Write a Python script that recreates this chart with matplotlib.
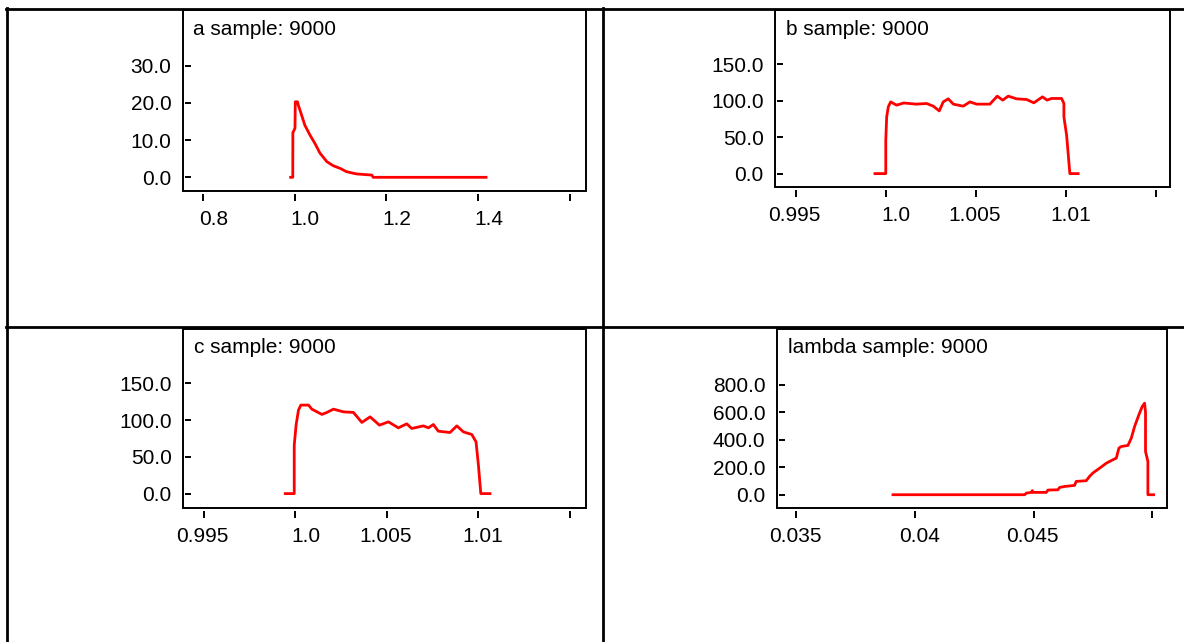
import matplotlib
matplotlib.use("Agg")
import matplotlib.pyplot as plt
from matplotlib.patches import Rectangle
from matplotlib.lines import Line2D
from matplotlib.transforms import ScaledTranslation

plt.rcParams['font.family'] = ['Liberation Sans', 'DejaVu Sans']

# density traces
a_x = [0.991, 0.9957, 0.9959, 1.0005, 1.0012, 1.006, 1.0078, 1.015, 1.022, 1.033, 1.044,
       1.055, 1.070, 1.084, 1.099, 1.113, 1.135, 1.168, 1.171, 1.417]
a_y = [0, 0, 12.0, 13.2, 20.3, 20.3, 19.4, 16.7, 14.0, 11.4, 9.1,
       6.5, 4.2, 3.1, 2.4, 1.5, 0.9, 0.6, 0, 0]

b_x = [0.9994, 1.0000, 1.0000, 1.00005, 1.00014, 1.00027, 1.0006, 1.0010, 1.0017, 1.00227,
       1.00264, 1.00297, 1.00319, 1.00347, 1.00375, 1.0043, 1.00467, 1.00504, 1.00578, 1.00619,
       1.00649, 1.0068, 1.00726, 1.00782, 1.00822, 1.0087, 1.00896, 1.0092, 1.00976, 1.00989,
       1.00989, 1.01004, 1.01022, 1.01068]
b_y = [0, 0, 45.8, 77.9, 91.6, 98.5, 94.0, 97.0, 95.4, 96.3,
       92.6, 86.1, 98.5, 102.7, 95.4, 92.6, 98.5, 95.4, 95.4, 106.4,
       100.9, 106.4, 102.7, 101.8, 97.2, 105.4, 100.9, 103.2, 103.2, 96.3,
       77.9, 52.7, 0, 0]

c_x = [0.99946, 0.99995, 0.99995, 1.00005, 1.00018, 1.00031, 1.00073, 1.00091, 1.00146, 1.00173,
       1.00209, 1.00263, 1.00318, 1.00364, 1.00409, 1.0046, 1.00509, 1.00563, 1.00609, 1.00636,
       1.0070, 1.00727, 1.00754, 1.00781, 1.00845, 1.00882, 1.00918, 1.00964, 1.00987, 1.0100,
       1.01013, 1.01063]
c_y = [0, 0, 65.9, 93.2, 113.6, 120.5, 120.5, 115.0, 107.8, 110.5,
       115.0, 111.3, 110.5, 96.9, 104.5, 93.2, 97.7, 89.5, 95.0, 88.7,
       92.2, 89.5, 94.1, 85.0, 83.2, 92.2, 84.0, 80.5, 70.4, 38.6,
       0, 0]

lam_x = [0.03907, 0.04462, 0.04469, 0.0449, 0.04494, 0.04497, 0.04553, 0.0456, 0.04602, 0.04609,
         0.0463, 0.04672, 0.04679, 0.04721, 0.04735, 0.04749, 0.04778, 0.04806, 0.04834, 0.04848,
         0.04859, 0.04869, 0.04897, 0.04911, 0.04925, 0.04943, 0.04957, 0.04967, 0.04971, 0.04971,
         0.04981, 0.04981, 0.05005]
lam_y = [0, 0, 12, 17, 30, 17, 17, 34, 36, 53,
         60, 68, 97, 102, 133, 158, 194, 230, 255, 267,
         340, 351, 359, 412, 497, 582, 642, 667, 601, 315,
         242, 0, 0]

fine_ticks = [0.995, 1.0, 1.005, 1.01, 1.015]
fine_labels = ['0.995', '1.0', '1.005', '1.01', '']

W, H = 1184, 642
fig = plt.figure(figsize=(W / 100, H / 100), dpi=100)


def panel(box, xlim, ylim, xticks, xlabels, yticks, xs, ys, title, txy):
    l, t, r, b = box
    ax = fig.add_axes([l / W, 1 - b / H, (r - l) / W, (b - t) / H])
    ax.plot(xs, ys, color='#ff0000', lw=2.0)
    ax.set_xlim(xlim)
    ax.set_ylim(ylim)
    for s in ax.spines.values():
        s.set_visible(False)
    ax.spines['left'].set_position(('outward', -1.5))
    ax.spines['bottom'].set_position(('outward', 2.5))
    ax.add_patch(Rectangle((0, 0), 1, 1, transform=ax.transAxes, fill=False,
                           lw=1.4, ec='black', clip_on=False, zorder=3))
    ax.set_xticks(xticks, xlabels)
    ax.set_yticks(yticks, ['%.1f' % v for v in yticks])
    ax.tick_params(axis='y', direction='in', length=4.5, width=1.4, pad=9.7, labelsize=15)
    ax.tick_params(axis='x', direction='out', length=5, width=1.4, pad=6.5, labelsize=15)
    shift = ScaledTranslation(0.25, 0, fig.dpi_scale_trans)
    for lab in ax.get_xticklabels():
        lab.set_horizontalalignment('right')
        lab.set_transform(lab.get_transform() + shift)
    fig.text(txy[0] / W, 1 - txy[1] / H, title, fontsize=15, va='baseline')
    return ax


panel((183, 10, 586, 191), (0.7564, 1.6349), (-3.68, 44.97),
      [0.8, 1.0, 1.2, 1.4, 1.6], ['0.8', '1.0', '1.2', '1.4', ''], [0, 10, 20, 30],
      a_x, a_y, 'a sample: 9000', (193, 35))
panel((775, 10, 1170, 187), (0.99385, 1.01578), (-18.4, 224.7),
      fine_ticks, fine_labels, [0, 50, 100, 150],
      b_x, b_y, 'b sample: 9000', (786, 35))
panel((183, 329, 586, 508), (0.99388, 1.01587), (-19.6, 224.1),
      fine_ticks, fine_labels, [0, 50, 100, 150],
      c_x, c_y, 'c sample: 9000', (194, 353))
panel((777, 329, 1167, 508), (0.034183, 0.050615), (-96.7, 1207),
      [0.035, 0.04, 0.045, 0.05], ['0.035', '0.04', '0.045', ''], [0, 200, 400, 600, 800],
      lam_x, lam_y, 'lambda sample: 9000', (788, 353))

# table grid around the panels
for x0, y0, x1, y1 in [(6, 9, W, 9), (6, 327, W, 327), (7, 8, 7, H), (603, 8, 603, H)]:
    fig.add_artist(Line2D([x0 / W, x1 / W], [1 - y0 / H, 1 - y1 / H],
                          transform=fig.transFigure, color='black', lw=2))

fig.savefig('out.png', dpi=100)
